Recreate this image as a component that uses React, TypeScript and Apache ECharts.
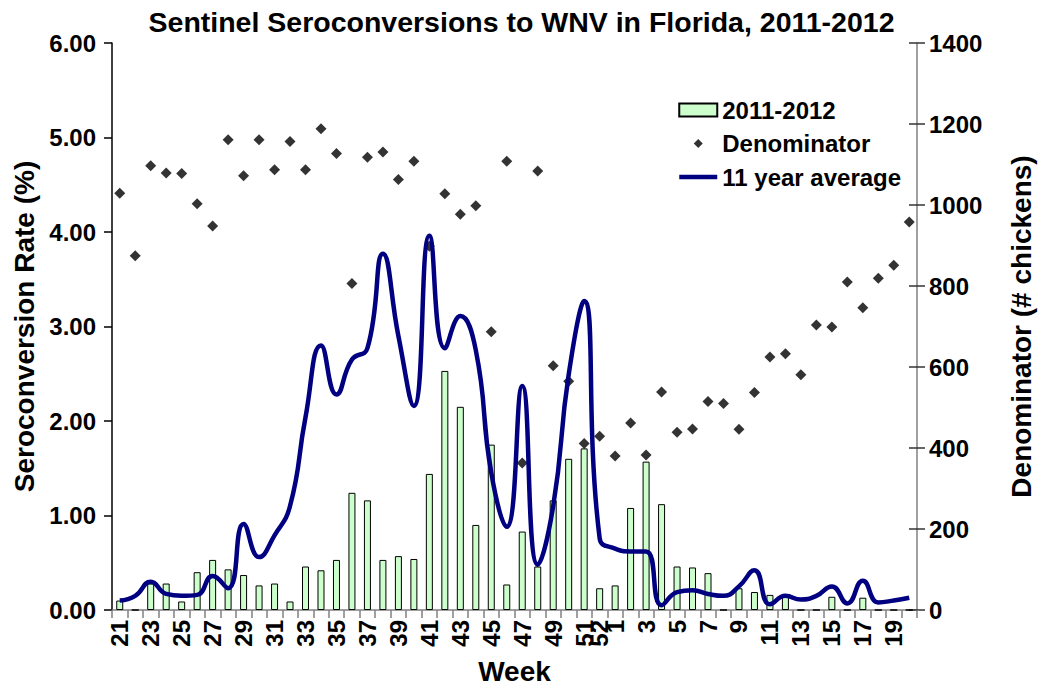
import React, { useEffect, useRef } from "react";
import * as echarts from "echarts";

const weeks = [
  "21", "22", "23", "24", "25", "26", "27", "28", "29", "30", "31", "32", "33", "34", "35", "36",
  "37", "38", "39", "40", "41", "42", "43", "44", "45", "46", "47", "48", "49", "50", "51", "52",
  "1", "2", "3", "4", "5", "6", "7", "8", "9", "10", "11", "12", "13", "14", "15", "16", "17", "18", "19", "20",
];

const rate20112012 = [
  0.1, 0, 0.28, 0.28, 0.09, 0.4, 0.53, 0.43, 0.37, 0.26, 0.28, 0.09, 0.46, 0.42, 0.53, 1.24,
  1.16, 0.53, 0.57, 0.54, 1.44, 2.53, 2.15, 0.9, 1.75, 0.27, 0.83, 0.46, 1.16, 1.6, 1.71, 0.23,
  0.26, 1.08, 1.57, 1.12, 0.46, 0.45, 0.39, 0, 0.23, 0.19, 0.16, 0.15, 0, 0, 0.14, 0, 0.13, 0, 0, 0,
];

const denominator = [
  1029, 875, 1097, 1079, 1078, 1003, 948, 1161, 1072, 1161, 1087, 1157, 1087, 1188, 1127, 806,
  1118, 1131, 1063, 1108, 898, 1028, 977, 998, 687, 1108, 363, 1084, 603, 565, 411, 429,
  380, 462, 383, 538, 439, 447, 515, 510, 446, 537, 625, 633, 581, 704, 699, 810, 746, 819, 851, 958,
];

const elevenYearAverage = [
  0.1, 0.15, 0.3, 0.17, 0.15, 0.16, 0.36, 0.23, 0.91, 0.56, 0.79, 1.1, 2.04, 2.8, 2.28, 2.65,
  2.77, 3.77, 2.9, 2.16, 3.96, 2.77, 3.11, 2.75, 1.45, 0.88, 2.37, 0.48, 1.1, 2.49, 3.27, 0.76,
  0.65, 0.62, 0.62, 0.05, 0.19, 0.21, 0.17, 0.15, 0.25, 0.42, 0.06, 0.15, 0.11, 0.15, 0.25, 0.07, 0.31, 0.08, 0.1, 0.13,
];

const FONT = "'Liberation Sans', Arial, sans-serif";

export default function App() {
  const ref = useRef<HTMLDivElement>(null);

  useEffect(() => {
    document.body.style.margin = "0";
    if (!ref.current) return;
    const chart = echarts.init(ref.current, null, { renderer: "svg" });
    chart.setOption({
      animation: false,
      backgroundColor: "#ffffff",
      textStyle: { fontFamily: FONT },
      title: {
        text: "Sentinel Seroconversions to WNV in Florida, 2011-2012",
        left: "center",
        top: 2,
        textStyle: { fontFamily: FONT, fontWeight: "bold", fontSize: 28.5, color: "#000" },
      },
      legend: {
        orient: "vertical",
        left: 672,
        top: 93,
        itemWidth: 38,
        itemHeight: 13,
        itemGap: 9.5,
        textStyle: { fontFamily: FONT, fontWeight: "bold", fontSize: 24, color: "#000", lineHeight: 24 },
        data: [
          { name: "2011-2012", icon: "rect" },
          { name: "Denominator", icon: "path://M0,0M38,13M19,2L23.5,6.5L19,11L14.5,6.5Z" },
          {
            name: "11 year average",
            itemStyle: { color: "rgba(0,0,0,0)", borderWidth: 0, opacity: 0 },
            lineStyle: { color: "#000080", width: 4.5, opacity: 1 },
          },
        ],
      },
      grid: { left: 112, right: 115, top: 43, bottom: 70, containLabel: false },
      xAxis: {
        type: "category",
        data: weeks,
        name: "Week",
        nameLocation: "middle",
        nameGap: 47,
        nameTextStyle: { fontFamily: FONT, fontWeight: "bold", fontSize: 28, color: "#000" },
        axisLine: { show: true, lineStyle: { color: "#808080", width: 1.5 } },
        axisTick: { show: true, interval: 0, length: 8, alignWithLabel: false, lineStyle: { color: "#808080", width: 1.5 } },
        axisLabel: {
          rotate: 90,
          margin: 10,
          interval: (index: number, value: string) => index % 2 === 0 || value === "52",
          fontFamily: FONT,
          fontWeight: "bold",
          fontSize: 24,
          color: "#000",
        },
      },
      yAxis: [
        {
          type: "value",
          min: 0,
          max: 6,
          interval: 1,
          position: "left",
          name: "Seroconversion Rate (%)",
          nameLocation: "middle",
          nameGap: 72,
          nameTextStyle: { fontFamily: FONT, fontWeight: "bold", fontSize: 28, color: "#000" },
          axisLine: { show: true, lineStyle: { color: "#000", width: 1.5 } },
          axisTick: { show: true, length: 8, lineStyle: { color: "#000", width: 1.5 } },
          splitLine: { show: false },
          axisLabel: {
            margin: 16,
            formatter: (v: number) => v.toFixed(2),
            fontFamily: FONT,
            fontWeight: "bold",
            fontSize: 24,
            color: "#000",
          },
        },
        {
          type: "value",
          min: 0,
          max: 1400,
          interval: 200,
          position: "right",
          name: "Denominator (# chickens)",
          nameLocation: "middle",
          nameGap: 90,
          nameTextStyle: { fontFamily: FONT, fontWeight: "bold", fontSize: 28, color: "#000" },
          axisLine: { show: true, lineStyle: { color: "#808080", width: 1.5 } },
          axisTick: { show: true, length: 8, lineStyle: { color: "#333", width: 1.5 } },
          splitLine: { show: false },
          axisLabel: {
            margin: 12,
            formatter: (v: number) => String(v),
            fontFamily: FONT,
            fontWeight: "bold",
            fontSize: 24,
            color: "#000",
          },
        },
        {
          type: "value",
          min: 0,
          max: 1400,
          interval: 200,
          position: "right",
          axisLine: { show: false },
          axisTick: { show: true, inside: true, length: 8, lineStyle: { color: "#333", width: 1.5 } },
          axisLabel: { show: false },
          splitLine: { show: false },
        },
      ],
      series: [
        {
          name: "2011-2012",
          type: "bar",
          yAxisIndex: 0,
          data: rate20112012,
          barWidth: 7,
          itemStyle: { color: "#ccffcc", borderColor: "#000", borderWidth: 1 },
        },
        {
          name: "Denominator",
          type: "scatter",
          yAxisIndex: 1,
          data: denominator,
          symbol: "diamond",
          symbolSize: 11,
          itemStyle: { color: "#000" },
        },
        {
          name: "11 year average",
          type: "line",
          yAxisIndex: 0,
          data: elevenYearAverage,
          smooth: 0.5,
          symbol: "none",
          showSymbol: false,
          lineStyle: { color: "#000080", width: 4.5 },
          itemStyle: { color: "#000080" },
        },
      ],
    });
    return () => chart.dispose();
  }, []);

  return <div ref={ref} style={{ width: 1043, height: 690 }} />;
}
